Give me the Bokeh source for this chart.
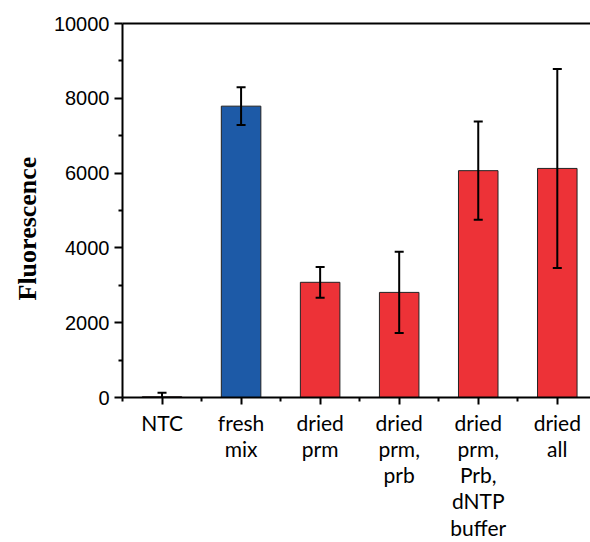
from bokeh.plotting import figure
from bokeh.models import (ColumnDataSource, FixedTicker, Range1d, Whisker, TeeHead,
                          LinearAxis, Title)
from bokeh.embed import file_html
from bokeh.resources import INLINE

categories = ["NTC", "fresh\nmix", "dried\nprm", "dried\nprm,\nprb",
              "dried\nprm,\nPrb,\ndNTP\nbuffer", "dried\nall"]
positions = [1, 2, 3, 4, 5, 6]
values = [20, 7790, 3080, 2810, 6065, 6125]
errors = [110, 505, 410, 1085, 1315, 2660]
colors = ["#ED3237", "#1D5AA7", "#ED3237", "#ED3237", "#ED3237", "#ED3237"]
y_ticks = [0, 2000, 4000, 6000, 8000, 10000]
y_minor = [1000, 3000, 5000, 7000, 9000]
x_minor = [0.5, 1.5, 2.5, 3.5, 4.5, 5.5, 6.5]

src = ColumnDataSource(dict(
    x=positions, top=values, color=colors,
    upper=[v + e for v, e in zip(values, errors)],
    lower=[v - e for v, e in zip(values, errors)],
))

p = figure(width=590, height=542, output_backend="svg", toolbar_location=None,
           x_range=Range1d(0.5, 6.42), y_range=Range1d(0, 10000),
           min_border_left=122, min_border_right=0, min_border_top=23,
           min_border_bottom=143)
p.xgrid.visible = False
p.ygrid.visible = False
p.outline_line_color = None
p.background_fill_color = "white"
p.border_fill_color = "white"

p.vbar(x="x", top="top", bottom=0, width=0.5, fill_color="color",
       line_color="#222222", line_width=1, source=src)

w = Whisker(base="x", upper="upper", lower="lower", source=src,
            line_color="black", line_width=2, level="annotation",
            upper_head=TeeHead(size=9, line_color="black", line_width=2),
            lower_head=TeeHead(size=9, line_color="black", line_width=2))
p.add_layout(w)

# y axis
ya = p.yaxis[0]
ya.ticker = FixedTicker(ticks=y_ticks, minor_ticks=y_minor)
ya.axis_line_width = 2
ya.major_tick_line_width = 2
ya.minor_tick_line_width = 2
ya.major_tick_out = 8
ya.major_tick_in = 0
ya.minor_tick_out = 4
ya.minor_tick_in = 0
ya.major_label_text_font = "Liberation Sans"
ya.major_label_text_font_size = "20px"
ya.major_label_text_color = "black"
ya.major_label_standoff = 5

# x axis
xa = p.xaxis[0]
xa.ticker = FixedTicker(ticks=positions, minor_ticks=x_minor)
xa.major_label_overrides = {pos: lab for pos, lab in zip(positions, categories)}
xa.axis_line_width = 2
xa.major_tick_line_width = 2
xa.minor_tick_line_width = 2
xa.major_tick_out = 7
xa.major_tick_in = 0
xa.minor_tick_out = 4
xa.minor_tick_in = 0
xa.major_label_text_font = "Lato"
xa.major_label_text_font_size = "21px"
xa.major_label_text_color = "black"
xa.major_label_text_line_height = 1.05
xa.major_label_standoff = 5

# top line
top_axis = LinearAxis(axis_line_width=2, major_tick_line_color=None,
                      minor_tick_line_color=None, major_label_text_font_size="0px",
                      ticker=FixedTicker(ticks=[]))
p.add_layout(top_axis, "above")

ytitle = Title(text="Fluorescence", align="left", offset=97,
               text_font="Liberation Serif", text_font_style="bold",
               text_font_size="26px", text_color="black", standoff=18)
p.add_layout(ytitle, "left")

open("out.html", "w").write(file_html(p, INLINE))
